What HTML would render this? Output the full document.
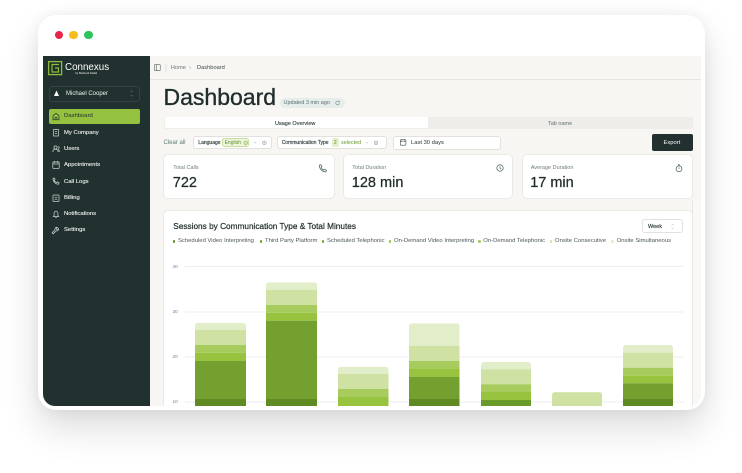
<!DOCTYPE html>
<html><head><meta charset="utf-8">
<style>
*{box-sizing:border-box;margin:0;padding:0}
html,body{width:742px;height:473px;overflow:hidden;background:#fff;font-family:"Liberation Sans",Arial,sans-serif}
.win{position:absolute;left:38px;top:15px;width:667px;height:395px;border-radius:18px;background:#fff;box-shadow:0 18px 36px rgba(0,0,0,.14),0 0 14px rgba(0,0,0,.06)}
.dot{position:absolute;width:8.6px;height:8.6px;border-radius:50%}
.inner{position:absolute;left:43px;top:56px;width:658px;height:350px;overflow:hidden;border-radius:0 0 12px 12px;background:#f7f6f3}
.p{position:absolute;left:-43px;top:-56px;width:742px;height:473px}
.a{position:absolute}
.t{position:absolute;white-space:nowrap;line-height:1}
.side{position:absolute;left:43px;top:56px;width:107px;height:350px;background:#213130}
.mi{position:absolute;left:64px;font-size:5.9px;color:#f2f5f4;white-space:nowrap;line-height:1;-webkit-text-stroke:.1px #f2f5f4}
.card{position:absolute;background:#fff;border:1px solid #ebe9e5;border-radius:5px}
.lab{position:absolute;font-size:5.5px;color:#6f7e7c;line-height:1;white-space:nowrap}
.val{position:absolute;font-size:14.5px;color:#1f2c2b;line-height:1;white-space:nowrap;-webkit-text-stroke:.25px #1f2c2b}
.chip{position:absolute;background:#fff;border:1px solid #e3e1dd;border-radius:3px}
.lg{position:absolute;top:238.9px;font-size:5.9px;color:#4a5856;line-height:1;white-space:nowrap}
.ld{position:absolute;top:240px;width:2.7px;height:2.7px;border-radius:50%}
.yl{position:absolute;left:172.5px;font-size:4.8px;color:#7a8583;line-height:1}
</style></head><body>
<div class="win"></div>
<div class="dot" style="left:54.7px;top:30.7px;background:#e8254b"></div>
<div class="dot" style="left:69.2px;top:30.7px;background:#f6bb1f"></div>
<div class="dot" style="left:84.2px;top:30.7px;background:#2ec35a"></div>

<div class="inner"><div class="p">
  <!-- sidebar -->
  <div class="side"></div>
  <svg class="a" style="left:0;top:0" width="742" height="473">
    <rect x="48.6" y="61.6" width="13" height="13" fill="none" stroke="#8dbb3c" stroke-width="1.3"/>
    <path d="M59 64.5 H52 V72 H58.5 V68 H55" fill="none" stroke="#8dbb3c" stroke-width="1.2"/>
    <path d="M54 96 L56.5 90.5 L59 96 Z" fill="#fff"/>
    <path d="M130.5 92 l1.2 -1.3 l1.2 1.3 M130.5 95 l1.2 1.3 l1.2 -1.3" fill="none" stroke="#7d8a88" stroke-width=".5"/>
    <g fill="none" stroke="#c5cdcb" stroke-width=".75">
      <rect x="53.5" y="129.5" width="5" height="6.5"/><path d="M55 131.5h2M55 133.5h2"/>
      <circle cx="55.5" cy="147.5" r="1.6"/><path d="M52.8 152c0-2 1.2-2.8 2.7-2.8s2.7.8 2.7 2.8"/><path d="M58.2 146.2a1.5 1.5 0 0 1 0 2.8M59.3 152c0-1.4-.4-2.2-1.1-2.6"/>
      <rect x="52.8" y="162" width="6.4" height="6.4" rx=".6"/><path d="M52.8 164h6.4M54.5 161v2M57.5 161v2"/>
      <path d="M53 178.5c0 3 2.5 5.8 5.5 5.8l.6-1.4-1.5-1-1 .8c-1-.5-1.8-1.3-2.3-2.3l.8-1-1-1.5z"/>
      <rect x="53" y="195" width="6" height="6.5" rx=".5"/><path d="M54.7 197.3h2.6M54.7 199.2h2.6"/>
      <path d="M53.3 216.5h5.4l-.8-1v-2.3a1.9 1.9 0 0 0-3.8 0v2.3z M55.3 217.5h1.4"/>
      <path d="M53.2 233.8l3-3a1.8 1.8 0 0 0 2.3-2.3l-1 1-.9-.2-.2-.9 1-1a1.8 1.8 0 0 0-2.3 2.3l-3 3z"/>
    </g>
  </svg>
  <div class="t" style="left:65px;top:62.8px;font-size:9.8px;color:#fff">Connexus</div>
  <div class="t" style="left:75.5px;top:73.3px;font-size:2.3px;color:#cfd6d4;font-weight:bold">by Piedmont Global</div>
  <div class="a" style="left:49px;top:86px;width:91px;height:15.5px;border:1px solid #34433f;border-radius:3px"></div>
  <div class="t" style="left:66px;top:91.3px;font-size:6px;color:#eef1f0">Michael Cooper</div>
  <div class="a" style="left:49px;top:109px;width:91px;height:14.5px;background:#94c140;border-radius:2px"></div>
  <svg class="a" style="left:0;top:0" width="742" height="473"><path d="M53 119.8v-4l3-2.4 3 2.4v4zM55 119.8v-2.3h2v2.3" fill="none" stroke="#2c3d2a" stroke-width=".75"/></svg>
  <div class="t" style="left:64px;top:113.7px;font-size:5.9px;color:#1e2d2c">Dashboard</div>
  <div class="mi" style="top:130.5px">My Company</div>
  <div class="mi" style="top:146.8px">Users</div>
  <div class="mi" style="top:163.1px">Appointments</div>
  <div class="mi" style="top:179.5px">Call Logs</div>
  <div class="mi" style="top:195.8px">Billing</div>
  <div class="mi" style="top:212.1px">Notifications</div>
  <div class="mi" style="top:228.3px">Settings</div>

  <!-- header -->
  <div class="a" style="left:150px;top:78.5px;width:551px;height:1px;background:#e7e5e1"></div>
  <svg class="a" style="left:0;top:0" width="742" height="473">
    <rect x="154.3" y="64.6" width="6" height="6" rx=".8" fill="none" stroke="#6a7775" stroke-width=".7"/><path d="M156.3 64.6v6" stroke="#6a7775" stroke-width=".7"/>
    <path d="M166 63.5v8.5" stroke="#d8d6d2" stroke-width=".6"/>
    <path d="M189.5 66.3l1.3 1.3-1.3 1.3" fill="none" stroke="#8a9593" stroke-width=".5"/>
  </svg>
  <div class="t" style="left:170.7px;top:65.6px;font-size:5.7px;color:#6b7775">Home</div>
  <div class="t" style="left:197px;top:65.6px;font-size:5.7px;color:#3d4a48">Dashboard</div>

  <div class="t" style="left:163.5px;top:85.8px;font-size:23px;color:#1f2d2c;-webkit-text-stroke:.35px #1f2d2c">Dashboard</div>
  <div class="a" style="left:280px;top:98px;width:64.5px;height:10px;border-radius:5px;background:#e6eeec"></div>
  <div class="t" style="left:283.5px;top:101.2px;font-size:5.5px;color:#5d6f6c">Updated 3 min ago</div>
  <svg class="a" style="left:0;top:0" width="742" height="473"><path d="M339 101.6a1.9 1.9 0 1 0 .5 1.6" fill="none" stroke="#6d7f7c" stroke-width=".55"/><path d="M339.3 100.7v1.3h-1.3" fill="none" stroke="#6d7f7c" stroke-width=".55"/></svg>

  <!-- tabs -->
  <div class="a" style="left:164px;top:116.5px;width:529px;height:12.8px;background:#eeedea;border-radius:2px"></div>
  <div class="a" style="left:165px;top:117.4px;width:263px;height:11px;background:#fff;border-radius:2px"></div>
  <div class="t" style="left:275px;top:121.6px;font-size:5.5px;color:#2c3a38;-webkit-text-stroke:.12px #2c3a38">Usage Overview</div>
  <div class="t" style="left:548px;top:121.6px;font-size:5.5px;color:#607270">Tab name</div>

  <!-- filters -->
  <div class="t" style="left:163.5px;top:140.4px;font-size:6px;color:#5b7d72">Clear all</div>
  <div class="chip" style="left:193.3px;top:136px;width:78.4px;height:13.4px"></div>
  <div class="t" style="left:198.3px;top:140.9px;font-size:5px;color:#2a3836;-webkit-text-stroke:.15px #2a3836">Language</div>
  <div class="a" style="left:222.3px;top:138.3px;width:27px;height:9px;background:#edf5de;border:1px solid #c8de9f;border-radius:2.5px"></div>
  <div class="t" style="left:224.6px;top:141px;font-size:5px;color:#5d8f26">English</div>
  <div class="chip" style="left:277.3px;top:136px;width:110px;height:13.4px"></div>
  <div class="t" style="left:281.7px;top:140.9px;font-size:5px;color:#2a3836;-webkit-text-stroke:.15px #2a3836">Communication Type</div>
  <div class="a" style="left:331.7px;top:138.3px;width:7.6px;height:9px;background:#e3efcf;border-radius:2px"></div>
  <div class="t" style="left:333.8px;top:140.9px;font-size:5.3px;color:#5d8f26">2</div>
  <div class="t" style="left:341px;top:140.8px;font-size:5.4px;color:#6a9b2b">selected</div>
  <div class="chip" style="left:392.7px;top:135.5px;width:108.5px;height:14px"></div>
  <div class="t" style="left:411px;top:140.5px;font-size:5.8px;color:#26332f">Last 30 days</div>
  <svg class="a" style="left:0;top:0" width="742" height="473">
    <g fill="none" stroke-width=".5">
      <circle cx="245.6" cy="142.8" r="1.8" stroke="#6a9b2b"/><path d="M244.9 142.8l.6.6 1-1.1" stroke="#6a9b2b"/>
      <path d="M254.3 142.2l1 1 1-1" stroke="#7d8a88"/>
      <circle cx="264.4" cy="142.8" r="1.9" stroke="#7d8a88"/><path d="M263.7 142.1l1.4 1.4M265.1 142.1l-1.4 1.4" stroke="#7d8a88"/>
      <path d="M366 142.2l1 1 1-1" stroke="#7d8a88"/>
      <circle cx="376" cy="142.8" r="1.9" stroke="#7d8a88"/><path d="M375.3 142.1l1.4 1.4M376.7 142.1l-1.4 1.4" stroke="#7d8a88"/>
      <rect x="400.3" y="139.8" width="5.6" height="5.4" rx=".6" stroke="#3a4745" stroke-width=".6"/><path d="M400.3 141.5h5.6M401.8 139v1.4M404.4 139v1.4" stroke="#3a4745" stroke-width=".6"/>
    </g>
  </svg>
  <div class="a" style="left:651.7px;top:134.3px;width:41.6px;height:16.4px;background:#22302f;border-radius:2px"></div>
  <div class="t" style="left:663.5px;top:141.4px;font-size:5.8px;color:#fff">Export</div>

  <!-- stat cards -->
  <div class="card" style="left:163.3px;top:154px;width:172px;height:45px"></div>
  <div class="card" style="left:342.7px;top:154px;width:170.5px;height:45px"></div>
  <div class="card" style="left:521.7px;top:154px;width:171px;height:45px"></div>
  <div class="lab" style="left:173.3px;top:166.2px">Total Calls</div>
  <div class="lab" style="left:352.3px;top:166.2px">Total Duration</div>
  <div class="lab" style="left:530.7px;top:166.2px">Average Duration</div>
  <div class="val" style="left:172.8px;top:176.2px">722</div>
  <div class="val" style="left:351.8px;top:176.2px">128 min</div>
  <div class="val" style="left:530.2px;top:176.2px">17 min</div>
  <svg class="a" style="left:0;top:0" width="742" height="473">
    <g fill="none" stroke="#4b6360" stroke-width=".75">
      <path d="M319.3 165.3c0 3.6 3 6.6 6.6 6.6l.6-1.5-1.7-1.1-1 .8c-1.2-.6-2.1-1.5-2.7-2.7l.8-1-1.1-1.7z"/>
      <circle cx="500" cy="168" r="3.2"/><path d="M500 166.2v1.9l1.2.8"/>
      <circle cx="679" cy="168.8" r="2.9"/><path d="M679 167.5v1.4M678 164.9h2M679 164.9v1"/>
    </g>
  </svg>

  <!-- chart card -->
  <div class="card" style="left:163.3px;top:210px;width:529.7px;height:220px"></div>
  <div class="a" style="left:692px;top:200px;width:9px;height:206px;background:#f9f8f6;border-left:1px solid #e9e7e4"></div>
  <div class="t" style="left:173.3px;top:222.8px;font-size:8.25px;color:#1f2c2b;-webkit-text-stroke:.22px #1f2c2b">Sessions by Communication Type &amp; Total Minutes</div>
  <div class="chip" style="left:641.7px;top:219.3px;width:41px;height:14px"></div>
  <div class="t" style="left:648px;top:224.9px;font-size:5.5px;color:#2a3836;-webkit-text-stroke:.15px #2a3836">Week</div>
  <svg class="a" style="left:0;top:0" width="742" height="473"><path d="M671.6 225.3l1.1-1.1 1.1 1.1M671.6 227.8l1.1 1.1 1.1-1.1" fill="none" stroke="#a2aca9" stroke-width=".5"/></svg>

  <div class="ld" style="left:172.7px;background:#5f8b22"></div><div class="lg" style="left:178px">Scheduled Video Interpreting</div>
  <div class="ld" style="left:259.7px;background:#6a9a2a"></div><div class="lg" style="left:265px">Third Party Platform</div>
  <div class="ld" style="left:321.7px;background:#74a02f"></div><div class="lg" style="left:327px">Scheduled Telephonic</div>
  <div class="ld" style="left:388.7px;background:#98c33f"></div><div class="lg" style="left:394px">On-Demand Video Interpreting</div>
  <div class="ld" style="left:478px;background:#a8cb5d"></div><div class="lg" style="left:483.3px">On-Demand Telephonic</div>
  <div class="ld" style="left:549.7px;background:#cfe1a3"></div><div class="lg" style="left:555px">Onsite Consecutive</div>
  <div class="ld" style="left:611.4px;background:#e2edc9"></div><div class="lg" style="left:616.7px">Onsite Simultaneous</div>

  <div class="yl" style="top:265.8px">40</div>
  <div class="yl" style="top:311.1px">30</div>
  <div class="yl" style="top:356.1px">20</div>
  <div class="yl" style="top:401.1px">10</div>

  <svg class="a" style="left:0;top:0" width="742" height="473">
    <g stroke="#efeeec" stroke-width="1">
      <path d="M185 266.5H683M185 312H683M185 357H683M185 402H683"/>
    </g>
    <defs>
      <clipPath id="c1"><rect x="195" y="322.7" width="51" height="120" rx="3"/></clipPath>
      <clipPath id="c2"><rect x="266" y="282.3" width="51" height="160" rx="3"/></clipPath>
      <clipPath id="c3"><rect x="338" y="366.7" width="50.5" height="80" rx="3"/></clipPath>
      <clipPath id="c4"><rect x="409" y="323.3" width="50.5" height="120" rx="3"/></clipPath>
      <clipPath id="c5"><rect x="481" y="362" width="50" height="80" rx="3"/></clipPath>
      <clipPath id="c6"><rect x="552" y="392" width="50" height="60" rx="3"/></clipPath>
      <clipPath id="c7"><rect x="623" y="345" width="50" height="100" rx="3"/></clipPath>
    </defs>
    <g clip-path="url(#c1)">
      <rect x="195" y="322.7" width="51" height="7.3" fill="#e2edc9"/>
      <rect x="195" y="330" width="51" height="15" fill="#cfe1a3"/>
      <rect x="195" y="345" width="51" height="7.7" fill="#a8cb5d"/>
      <rect x="195" y="352.7" width="51" height="8.3" fill="#98c33f"/>
      <rect x="195" y="361" width="51" height="38" fill="#74a02f"/>
      <rect x="195" y="399" width="51" height="15" fill="#5f8b22"/>
    </g>
    <g clip-path="url(#c2)">
      <rect x="266" y="282.3" width="51" height="7.7" fill="#e2edc9"/>
      <rect x="266" y="290" width="51" height="15" fill="#cfe1a3"/>
      <rect x="266" y="305" width="51" height="7.7" fill="#a8cb5d"/>
      <rect x="266" y="312.7" width="51" height="8" fill="#98c33f"/>
      <rect x="266" y="320.7" width="51" height="78.3" fill="#74a02f"/>
      <rect x="266" y="399" width="51" height="15" fill="#5f8b22"/>
    </g>
    <g clip-path="url(#c3)">
      <rect x="338" y="366.7" width="51" height="7.3" fill="#e2edc9"/>
      <rect x="338" y="374" width="51" height="15" fill="#cfe1a3"/>
      <rect x="338" y="389" width="51" height="8" fill="#a8cb5d"/>
      <rect x="338" y="397" width="51" height="17" fill="#98c33f"/>
    </g>
    <g clip-path="url(#c4)">
      <rect x="409" y="323.3" width="51" height="22.7" fill="#e2edc9"/>
      <rect x="409" y="346" width="51" height="15" fill="#cfe1a3"/>
      <rect x="409" y="361" width="51" height="8" fill="#a8cb5d"/>
      <rect x="409" y="369" width="51" height="8" fill="#98c33f"/>
      <rect x="409" y="377" width="51" height="22" fill="#74a02f"/>
      <rect x="409" y="399" width="51" height="15" fill="#5f8b22"/>
    </g>
    <g clip-path="url(#c5)">
      <rect x="481" y="362" width="51" height="7.3" fill="#e2edc9"/>
      <rect x="481" y="369.3" width="51" height="15" fill="#cfe1a3"/>
      <rect x="481" y="384.3" width="51" height="7.7" fill="#a8cb5d"/>
      <rect x="481" y="392" width="51" height="8" fill="#98c33f"/>
      <rect x="481" y="400" width="51" height="14" fill="#6a9a2a"/>
    </g>
    <g clip-path="url(#c6)">
      <rect x="552" y="392" width="51" height="22" fill="#cfe1a3"/>
      <rect x="552" y="392" width="51" height="1" fill="#d9e8b5"/>
    </g>
    <g clip-path="url(#c7)">
      <rect x="623" y="345" width="51" height="7.7" fill="#e2edc9"/>
      <rect x="623" y="352.7" width="51" height="15" fill="#cfe1a3"/>
      <rect x="623" y="367.7" width="51" height="8" fill="#a8cb5d"/>
      <rect x="623" y="375.7" width="51" height="7.6" fill="#98c33f"/>
      <rect x="623" y="383.3" width="51" height="15.7" fill="#74a02f"/>
      <rect x="623" y="399" width="51" height="15" fill="#5f8b22"/>
    </g>
  </svg>
</div></div>
</body></html>
